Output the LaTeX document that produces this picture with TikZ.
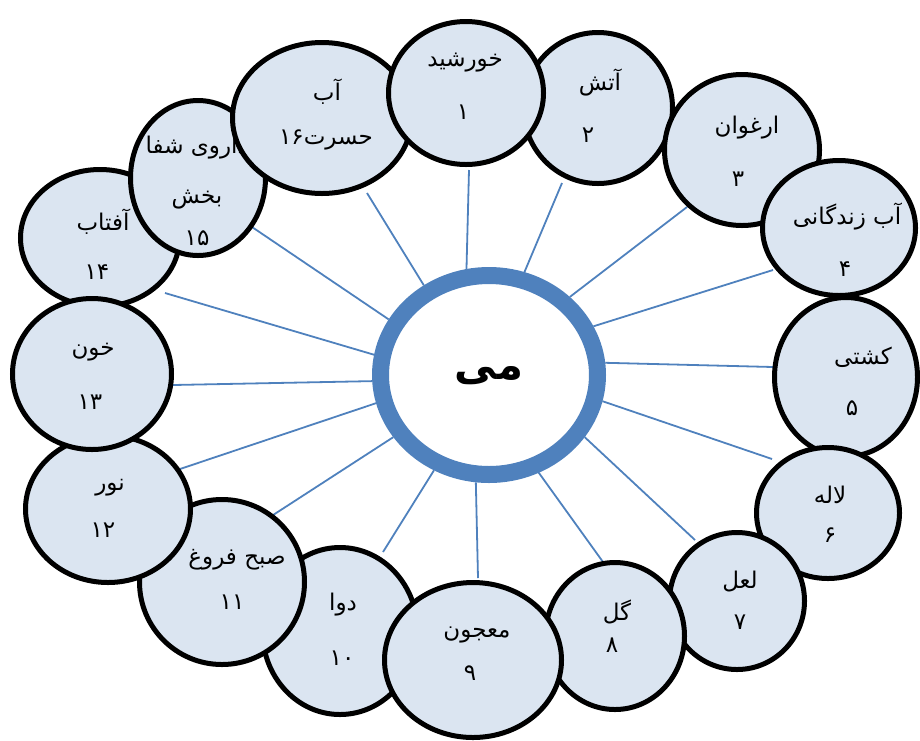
\documentclass[tikz,border=0pt]{standalone}
\usepackage{fontspec}
\newfontfamily\fa[Script=Arabic]{DejaVu Sans}
\TeXXeTstate=1
\usetikzlibrary{shapes.geometric}
\definecolor{ringblue}{RGB}{79,129,189}
\definecolor{bubblefill}{RGB}{219,229,241}

\begin{document}
\begin{tikzpicture}[x=1pt,y=-1pt,
  bubble/.style={ellipse, draw=black, line width=5pt, fill=bubblefill, inner sep=0pt},
  hub/.style={ellipse, draw=ringblue, line width=17pt, fill=white, inner sep=0pt,
    minimum width=217pt, minimum height=199pt},
  spoke/.style={draw=ringblue, line width=1.8pt},
  lbl/.style={font=\fa\fontsize{23}{26}\selectfont, inner sep=0pt, text=black},
  hubtext/.style={font=\fa\bfseries\fontsize{42}{46}\selectfont, inner sep=0pt}]
\useasboundingbox (0,0) rectangle (920,740);

% central ring
\node[hub] (ring) at (489,375) {};
\node[hubtext] (hubword) at (489,376) {\beginR می\endR};

% outer ends of the spokes
\coordinate (e1) at (469,170);
\coordinate (e2) at (562,183);
\coordinate (e3) at (687,207);
\coordinate (e4) at (773,270);
\coordinate (e5) at (773,367);
\coordinate (e6) at (772,459);
\coordinate (e7) at (695,540);
\coordinate (e8) at (603,562);
\coordinate (e9) at (478,578);
\coordinate (e10) at (383,552);
\coordinate (e11) at (270,517);
\coordinate (e12) at (180,469);
\coordinate (e13) at (173,385);
\coordinate (e14) at (165,293);
\coordinate (e15) at (252,227);
\coordinate (e16) at (367,193);

% spokes
\draw[spoke] (ring.102) -- (e1);
\draw[spoke] (ring.71) -- (e2);
\draw[spoke] (ring.44) -- (e3);
\draw[spoke] (ring.25) -- (e4);
\draw[spoke] (ring.6) -- (e5);
\draw[spoke] (ring.-13) -- (e6);
\draw[spoke] (ring.-33) -- (e7);
\draw[spoke] (ring.-63) -- (e8);
\draw[spoke] (ring.-97) -- (e9);
\draw[spoke] (ring.-120) -- (e10);
\draw[spoke] (ring.213) -- (e11);
\draw[spoke] (ring.194) -- (e12);
\draw[spoke] (ring.183) -- (e13);
\draw[spoke] (ring.170) -- (e14);
\draw[spoke] (ring.151) -- (e15);
\draw[spoke] (ring.126) -- (e16);

% bubbles, back to front
\node[bubble, minimum width=159pt, minimum height=137pt] (n14) at (100,238) {};
\node[lbl] (w14) at (103,222) {\beginR آفتاب\endR};
\node[lbl] (d14) at (97,272) {۱۴};

\node[bubble, minimum width=135pt, minimum height=155pt] (n15) at (198,178) {};
\node[lbl, anchor=east] (w15) at (248,148) {\beginR داروی شفا\endR};
\node[lbl] (v15) at (197,200) {\beginR بخش\endR};
\node[lbl] (d15) at (197,238) {۱۵};

\node[bubble, minimum width=179pt, minimum height=151pt] (n16) at (322,118) {};
\node[lbl] (w16) at (327,92) {\beginR آب\endR};
\node[lbl] (d16) at (326,140) {۱۶\beginR حسرت\endR};

\node[bubble, minimum width=149pt, minimum height=151pt] (n2) at (598,108) {};
\node[lbl] (w2) at (600,83) {\beginR آتش\endR};
\node[lbl] (d2) at (588,135) {۲};

\node[bubble, minimum width=155pt, minimum height=143pt] (n1) at (466,93) {};
\node[lbl] (w1) at (465,63) {\beginR خورشید\endR};
\node[lbl] (d1) at (463,112) {۱};

\node[bubble, minimum width=155pt, minimum height=151pt] (n3) at (742,150) {};
\node[lbl] (w3) at (747,128) {\beginR ارغوان\endR};
\node[lbl] (d3) at (738,179) {۳};

\node[bubble, minimum width=153pt, minimum height=135pt] (n4) at (839,228) {};
\node[lbl] (w4) at (847,217) {\beginR آب زندگانی\endR};
\node[lbl] (d4) at (845,269) {۴};

\node[bubble, minimum width=143pt, minimum height=159pt] (n5) at (846,377) {};
\node[lbl] (w5) at (863,357) {\beginR کشتی\endR};
\node[lbl] (d5) at (852,408) {۵};

\node[bubble, minimum width=143pt, minimum height=131pt] (n6) at (828,513) {};
\node[lbl] (w6) at (830,495) {\beginR لاله\endR};
\node[lbl] (d6) at (830,535) {۶};

\node[bubble, minimum width=135pt, minimum height=137pt] (n7) at (737,601) {};
\node[lbl] (w7) at (740,582) {\beginR لعل\endR};
\node[lbl] (d7) at (740,622) {۷};

\node[bubble, minimum width=139pt, minimum height=147pt] (n8) at (615,636) {};
\node[lbl] (w8) at (617,612) {\beginR گل\endR};
\node[lbl] (d8) at (612,645) {۸};

\node[bubble, minimum width=155pt, minimum height=167pt] (n10) at (340,631) {};
\node[lbl] (w10) at (343,605) {\beginR دوا\endR};
\node[lbl] (d10) at (342,658) {۱۰};

\node[bubble, minimum width=165pt, minimum height=165pt] (n11) at (222,582) {};
\node[lbl] (w11) at (237,560) {\beginR صبح فروغ\endR};
\node[lbl] (d11) at (232,602) {۱۱};

\node[bubble, minimum width=165pt, minimum height=147pt] (n12) at (108,509) {};
\node[lbl] (w12) at (110,488) {\beginR نور\endR};
\node[lbl] (d12) at (103,530) {۱۲};

\node[bubble, minimum width=159pt, minimum height=151pt] (n13) at (92,374) {};
\node[lbl] (w13) at (93,352) {\beginR خون\endR};
\node[lbl] (d13) at (90,402) {۱۳};

\node[bubble, minimum width=177pt, minimum height=155pt] (n9) at (473,660) {};
\node[lbl] (w9) at (477,635) {\beginR معجون\endR};
\node[lbl] (d9) at (470,673) {۹};
\end{tikzpicture}
\end{document}
